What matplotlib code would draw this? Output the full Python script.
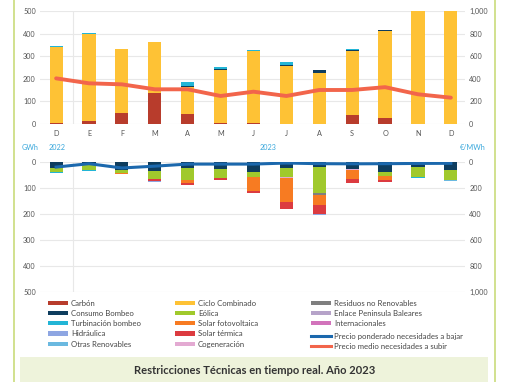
import matplotlib.pyplot as plt
import numpy as np
from matplotlib.patches import Patch, Rectangle
from matplotlib.lines import Line2D
from matplotlib.ticker import FuncFormatter

plt.rcParams['font.family'] = ['Lato', 'DejaVu Sans']

months = ['D', 'E', 'F', 'M', 'A', 'M', 'J', 'J', 'A', 'S', 'O', 'N', 'D']

# necesidades a subir (GWh)
carbon_up = [3, 12, 48, 138, 43, 6, 3, 0, 0, 40, 25, 0, 0]
ciclo_up = [337, 388, 282, 224, 119, 231, 322, 258, 227, 284, 386, 620, 600]
bombeo_up = [0, 0, 0, 0, 6, 8, 0, 4, 10, 5, 3, 0, 0]
turbinacion_up = [3, 3, 3, 3, 16, 9, 3, 11, 2, 1, 3, 0, 0]
precio_subir = [404, 360, 351, 307, 307, 248, 286, 248, 301, 301, 326, 263, 233]

# necesidades a bajar (GWh)
bombeo_dn = [24, 6, 29, 36, 22, 26, 40, 24, 18, 28, 38, 18, 29]
eolica_dn = [13, 24, 13, 30, 49, 37, 18, 34, 103, 0, 16, 39, 39]
cogeneracion_dn = [0, 0, 0, 0, 0, 0, 0, 5, 0, 4, 0, 0, 0]
residuos_dn = [0, 0, 0, 0, 0, 0, 0, 0, 5, 0, 0, 0, 0]
solar_fv_dn = [0, 0, 6, 0, 10, 0, 53, 89, 41, 35, 17, 0, 0]
solar_term_dn = [0, 0, 0, 7, 7, 5, 10, 29, 33, 13, 6, 0, 0]
hidraulica_dn = [0, 0, 0, 5, 0, 0, 0, 0, 4, 0, 0, 0, 0]
turbinacion_dn = [4, 5, 0, 0, 0, 3, 0, 0, 0, 0, 0, 4, 0]
otras_dn = [0, 0, 0, 0, 0, 0, 0, 0, 0, 0, 0, 0, 5]
precio_bajar = [39, 13, 46, 32, 16, 16, 16, 8, 13, 14, 13, 11, 10]

colors = {
    'Carbón': '#b83c2c', 'Consumo Bombeo': '#0e3d5e', 'Turbinación bombeo': '#22b5d6',
    'Hidráulica': '#8ea6e2', 'Otras Renovables': '#6bb9e0', 'Ciclo Combinado': '#fec235',
    'Eólica': '#a0c92c', 'Solar fotovoltaica': '#f77b22', 'Solar térmica': '#dc3b40',
    'Cogeneración': '#e3aad2', 'Residuos no Renovables': '#7f7f7f',
    'Enlace Peninsula Baleares': '#b6a3c9', 'Internacionales': '#d273bb',
}
c_subir = '#f2654b'
c_bajar = '#1b68ad'
grid_c = '#e8e8e8'
tick_c = '#555555'
blue_txt = '#3aa8dc'

W, H = 510, 382
fig = plt.figure(figsize=(W / 100, H / 100), dpi=100)

# page decoration
fig.add_artist(Line2D([14 / W, 14 / W], [0, 1], color='#c9dc7c', lw=1.2))
fig.add_artist(Line2D([495 / W, 495 / W], [0, 1], color='#c9dc7c', lw=1.2))
fig.add_artist(Rectangle((20 / W, 0), 468 / W, 25 / H, color='#eef3db', lw=0))
fig.text(255 / W, 11 / H, 'Restricciones Técnicas en tiempo real. Año 2023',
         ha='center', va='center', fontsize=8, color='#333333', fontweight='bold')

x = np.arange(len(months))
bw = 0.4
xl = (-0.49, 12.43)

# ---- top chart
ax1 = fig.add_axes([40 / W, (H - 124) / H, 425 / W, 113 / H])
bottom = np.zeros(len(x))
for name, vals in [('Carbón', carbon_up), ('Ciclo Combinado', ciclo_up),
                   ('Consumo Bombeo', bombeo_up), ('Turbinación bombeo', turbinacion_up)]:
    ax1.bar(x, vals, bw, bottom=bottom, color=colors[name], zorder=2)
    bottom += np.array(vals)
ax1.set_ylim(0, 500)
ax1.set_xlim(*xl)
ax1.set_yticks(range(0, 501, 100))
ax1.set_xticks(x)
ax1.set_xticklabels(months)
ax1.grid(axis='y', color=grid_c, lw=0.8, zorder=0)
ax1.axvline(0.5, color=grid_c, lw=0.8, zorder=1)
ax1r = ax1.twinx()
ax1r.plot(x, precio_subir, color=c_subir, lw=2.8, zorder=3, solid_capstyle='round')
ax1r.set_ylim(0, 1000)
ax1r.set_yticks(range(0, 1001, 200))
ax1r.yaxis.set_major_formatter(FuncFormatter(lambda v, p: f'{int(v):,}'))

# ---- bottom chart
ax2 = fig.add_axes([40 / W, (H - 292) / H, 425 / W, 130 / H])
bottom = np.zeros(len(x))
for name, vals in [('Consumo Bombeo', bombeo_dn), ('Eólica', eolica_dn),
                   ('Cogeneración', cogeneracion_dn), ('Residuos no Renovables', residuos_dn),
                   ('Solar fotovoltaica', solar_fv_dn), ('Solar térmica', solar_term_dn),
                   ('Hidráulica', hidraulica_dn), ('Turbinación bombeo', turbinacion_dn),
                   ('Otras Renovables', otras_dn)]:
    ax2.bar(x, vals, bw, bottom=bottom, color=colors[name], zorder=2)
    bottom += np.array(vals)
ax2.set_ylim(500, 0)
ax2.set_xlim(*xl)
ax2.set_yticks(range(0, 501, 100))
ax2.set_xticks([])
ax2.grid(axis='y', color=grid_c, lw=0.8, zorder=0)
ax2.axvline(0.5, color=grid_c, lw=0.8, zorder=1)
ax2r = ax2.twinx()
ax2r.plot(x, precio_bajar, color=c_bajar, lw=2.2, zorder=3)
ax2r.set_ylim(1000, 0)
ax2r.set_yticks(range(0, 1001, 200))
ax2r.yaxis.set_major_formatter(FuncFormatter(lambda v, p: f'{int(v):,}'))

for a in (ax1, ax1r, ax2, ax2r):
    for s in a.spines.values():
        s.set_visible(False)
    a.tick_params(length=0, labelsize=5.2, colors=tick_c, pad=3)
ax1.tick_params(axis='x', pad=4.5)

fig.text(30 / W, (H - 147) / H, 'GWh', color=blue_txt, fontsize=5.2, ha='center', va='center')
fig.text(57 / W, (H - 147) / H, '2022', color=blue_txt, fontsize=5.2, ha='center', va='center')
fig.text(268 / W, (H - 147) / H, '2023', color=blue_txt, fontsize=5.2, ha='center', va='center')
fig.text(473 / W, (H - 147) / H, '€/MWh', color=blue_txt, fontsize=5.2, ha='center', va='center')

# ---- legends
cols = [['Carbón', 'Consumo Bombeo', 'Turbinación bombeo', 'Hidráulica', 'Otras Renovables'],
        ['Ciclo Combinado', 'Eólica', 'Solar fotovoltaica', 'Solar térmica', 'Cogeneración'],
        ['Residuos no Renovables', 'Enlace Peninsula Baleares', 'Internacionales']]
lx = [48, 175, 311]
leg_kw = dict(frameon=False, fontsize=5.6, handlelength=2.6, handleheight=0.5,
              labelspacing=0.42, handletextpad=0.35, borderaxespad=0, borderpad=0,
              labelcolor='#444444')
for cx, names in zip(lx, cols):
    handles = [Patch(color=colors[n], lw=0) for n in names]
    leg = fig.legend(handles, names, loc='upper left',
                     bbox_to_anchor=(cx / W, (H - 299.5) / H), **leg_kw)
lines = [Line2D([], [], color=c_bajar, lw=2.2), Line2D([], [], color=c_subir, lw=2.2)]
fig.legend(lines, ['Precio ponderado necesidades a bajar', 'Precio medio necesidades a subir'],
           loc='upper left', bbox_to_anchor=(lx[2] / W, (H - 332.5) / H), **leg_kw)

fig.savefig('out.png', dpi=100)
